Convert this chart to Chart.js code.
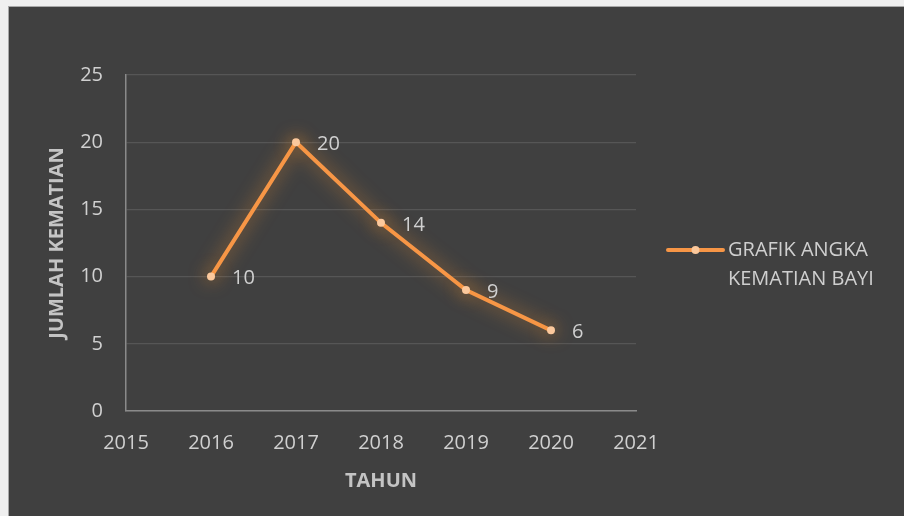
<!DOCTYPE html>
<html>
<head>
<meta charset="utf-8">
<script src="https://cdn.jsdelivr.net/npm/chart.js@4/dist/chart.umd.min.js"></script>
<style>
  html, body { margin: 0; padding: 0; background: #efefef; width: 904px; height: 516px; overflow: hidden; }
  #wrap { position: absolute; left: 8px; top: 6px; width: 895px; height: 509px;
          border-left: 1px solid #a8a8a8; border-top: 1px solid #a8a8a8; background: #404040; }
  canvas { display: block; }
</style>
</head>
<body>
<div id="wrap"><canvas id="c" width="895" height="509"></canvas></div>
<script>
const years = [2016, 2017, 2018, 2019, 2020];
const deaths = [10, 20, 14, 9, 6];
const seriesName = 'GRAFIK ANGKA KEMATIAN BAYI';
const xTitle = 'TAHUN';
const yTitle = 'JUMLAH KEMATIAN';

const LINE = '#f79646';
const POINT = '#fbc89c';
const FONT = '"Open Sans", "Liberation Sans", sans-serif';

const glow = {
  id: 'glow',
  beforeDatasetDraw(chart) {
    const ctx = chart.ctx;
    ctx.save();
    ctx.shadowColor = 'rgba(247,150,50,0.75)';
    ctx.shadowBlur = 18;
  },
  afterDatasetDraw(chart) { chart.ctx.restore(); }
};

const dataLabels = {
  id: 'dataLabels',
  afterDatasetsDraw(chart) {
    const ctx = chart.ctx;
    const meta = chart.getDatasetMeta(0);
    ctx.save();
    ctx.font = '20px ' + FONT;
    ctx.fillStyle = '#d0d0d0';
    ctx.textAlign = 'left';
    ctx.textBaseline = 'middle';
    meta.data.forEach((pt, i) => {
      ctx.fillText(String(chart.data.datasets[0].data[i].y), pt.x + 21, pt.y + 2);
    });
    ctx.restore();
  }
};

const sideLegend = {
  id: 'sideLegend',
  afterDraw(chart) {
    const ctx = chart.ctx;
    const x0 = 659, x1 = 714, y = 243;
    ctx.save();
    ctx.strokeStyle = LINE; ctx.lineWidth = 4; ctx.lineCap = 'round';
    ctx.beginPath(); ctx.moveTo(x0, y); ctx.lineTo(x1, y); ctx.stroke();
    ctx.fillStyle = POINT;
    ctx.beginPath(); ctx.arc((x0 + x1) / 2, y, 4, 0, Math.PI * 2); ctx.fill();
    ctx.font = '20px ' + FONT;
    ctx.fillStyle = '#cfcfcf';
    ctx.textAlign = 'left';
    ctx.textBaseline = 'middle';
    const label = chart.data.datasets[0].label;
    const words = label.split(' ');
    const lines = [];
    let cur = '';
    words.forEach(w => {
      const t = cur ? cur + ' ' + w : w;
      if (ctx.measureText(t).width > 160 && cur) { lines.push(cur); cur = w; } else cur = t;
    });
    if (cur) lines.push(cur);
    lines.forEach((l, i) => ctx.fillText(l, 719, y + i * 29));
    ctx.restore();
  }
};

new Chart(document.getElementById('c'), {
  type: 'line',
  data: {
    datasets: [{
      label: seriesName,
      data: years.map((y, i) => ({ x: y, y: deaths[i] })),
      borderColor: LINE,
      borderWidth: 4,
      pointBackgroundColor: POINT,
      pointBorderColor: POINT,
      pointRadius: 4,
      pointBorderWidth: 0,
      tension: 0,
      fill: false
    }]
  },
  options: {
    responsive: false,
    animation: false,
    layout: { padding: { left: 0, top: 68, right: 268, bottom: 0 } },
    plugins: {
      legend: { display: false },
      tooltip: { enabled: false }
    },
    scales: {
      x: {
        type: 'linear',
        min: 2015, max: 2021,
        afterFit: s => { s.height = 105; },
        ticks: {
          stepSize: 1,
          padding: 20,
          color: '#d0d0d0',
          font: { family: FONT, size: 20 },
          callback: v => String(v)
        },
        grid: { display: false, drawTicks: false },
        border: { display: true, color: '#8a8a8a', width: 1.5 },
        title: {
          display: true, text: xTitle, color: '#c4c4c4',
          font: { family: FONT, size: 20, weight: 'bold' },
          padding: { top: 0, bottom: 23 }
        }
      },
      y: {
        min: 0, max: 25,
        afterFit: s => { s.width = 117; },
        ticks: {
          stepSize: 5,
          padding: 23,
          color: '#d0d0d0',
          font: { family: FONT, size: 20 }
        },
        grid: { color: '#565656', lineWidth: 1.2, drawTicks: false },
        border: { display: true, color: '#8a8a8a', width: 1.5 },
        title: {
          display: true, text: yTitle, color: '#c4c4c4',
          font: { family: FONT, size: 20, weight: 'bold' },
          padding: { top: 36, bottom: 0 }
        }
      }
    }
  },
  plugins: [glow, dataLabels, sideLegend]
});
</script>
</body>
</html>
